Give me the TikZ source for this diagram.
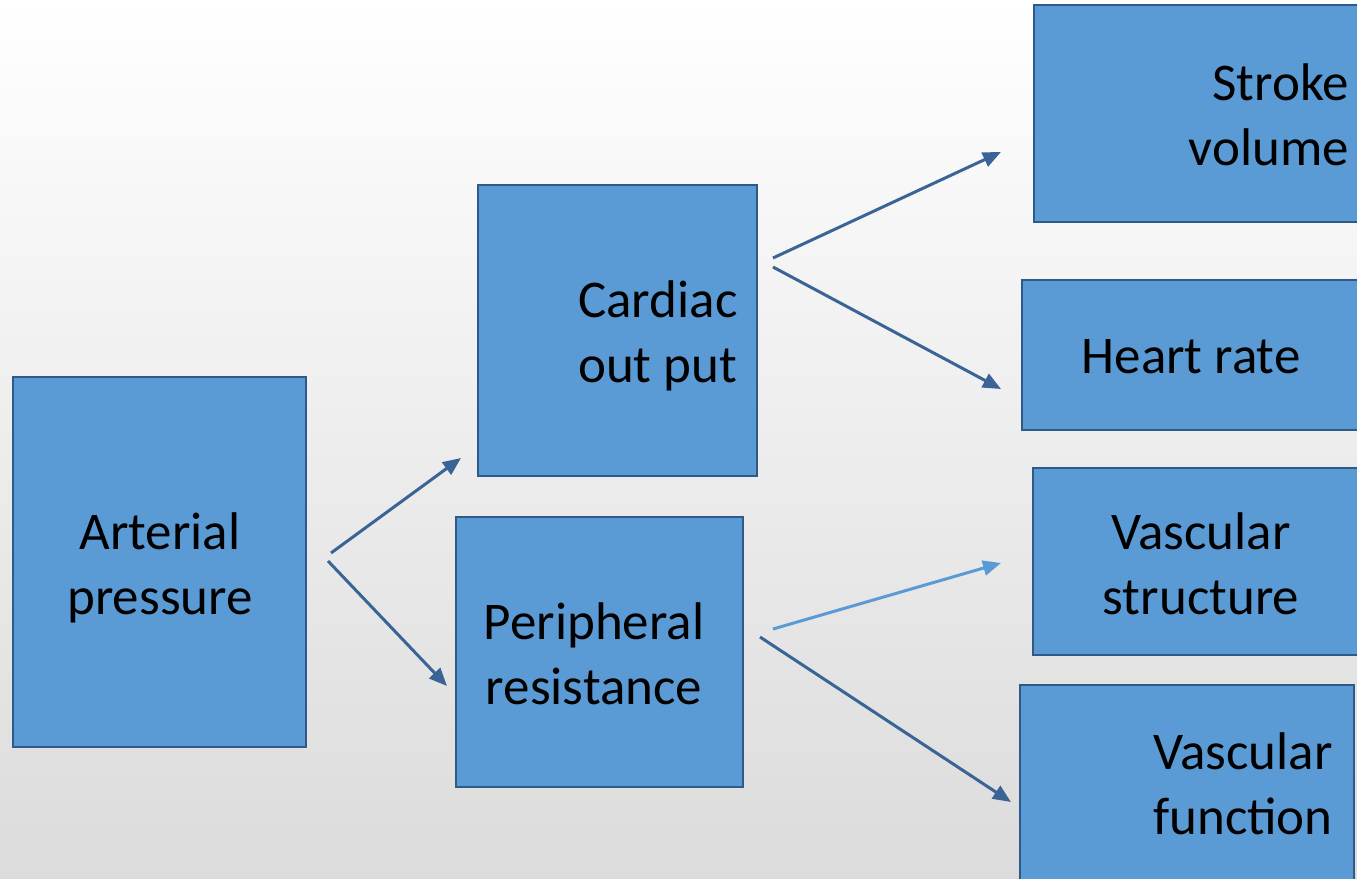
\documentclass[tikz,border=0pt]{standalone}
\usepackage{fontspec}
\setmainfont{Carlito}
\usetikzlibrary{arrows.meta}
\definecolor{boxfill}{HTML}{5B9BD5}
\definecolor{boxline}{HTML}{2F5A88}
\definecolor{arrdark}{HTML}{3A6496}
\definecolor{arrlight}{HTML}{5B9BD5}
\tikzset{
  box/.style={draw=boxline, fill=boxfill, line width=2pt, inner sep=0pt},
  lbl/.style={font=\fontsize{53}{65}\selectfont, text=black, inner sep=0pt},
  conn/.style={draw=arrdark, line width=3pt, -{Triangle[length=18pt,width=15pt]}},
  connlight/.style={conn, draw=arrlight}
}
\begin{document}
\begin{tikzpicture}[x=1pt,y=-1pt]
\shade[top color=white, bottom color=gray!28] (0,0) rectangle (1357,878);
\useasboundingbox (0,0) rectangle (1357,878);
% boxes
\node[box, minimum width=293pt, minimum height=370pt] (ap) at (159.5,562) {};
\node[box, minimum width=279pt, minimum height=291pt] (co) at (617.5,330.5) {};
\node[box, minimum width=287pt, minimum height=270pt] (pr) at (599.5,652) {};
\node[box, minimum width=340pt, minimum height=217pt] (sv) at (1204,113.5) {};
\node[box, minimum width=352pt, minimum height=150pt] (hr) at (1198,355) {};
\node[box, minimum width=340pt, minimum height=187pt] (vs) at (1203,561.5) {};
\node[box, minimum width=334pt, minimum height=210pt] (vf) at (1187,790) {};
% labels
\node[lbl, align=center] (tap) at (160,568) {Arterial\\pressure};
\node[lbl, align=left, anchor=west] (tco) at (578,336) {Cardiac\\out put};
\node[lbl, align=center] (tpr) at (594,654) {Peripheral\\resistance};
\node[lbl, align=right, anchor=east] (tsv) at (1349,115) {Stroke\\volume};
\node[lbl, align=center] (thr) at (1191,357) {Heart rate};
\node[lbl, align=center] (tvs) at (1201,564) {Vascular\\structure};
\node[lbl, align=center] (tvf) at (1243,784) {Vascular\\function};
% connector end points
\coordinate (a1s) at (331,553); \coordinate (a1e) at (461,458);
\coordinate (a2s) at (328,561); \coordinate (a2e) at (447,686);
\coordinate (c1s) at (773,258); \coordinate (c1e) at (1001,152);
\coordinate (c2s) at (773,267); \coordinate (c2e) at (1001,389);
\coordinate (p1s) at (773,629); \coordinate (p1e) at (1001,563);
\coordinate (p2s) at (760,637); \coordinate (p2e) at (1011,802);
\draw[conn] (a1s) -- (a1e);
\draw[conn] (a2s) -- (a2e);
\draw[conn] (c1s) -- (c1e);
\draw[conn] (c2s) -- (c2e);
\draw[connlight] (p1s) -- (p1e);
\draw[conn] (p2s) -- (p2e);
\end{tikzpicture}
\end{document}
